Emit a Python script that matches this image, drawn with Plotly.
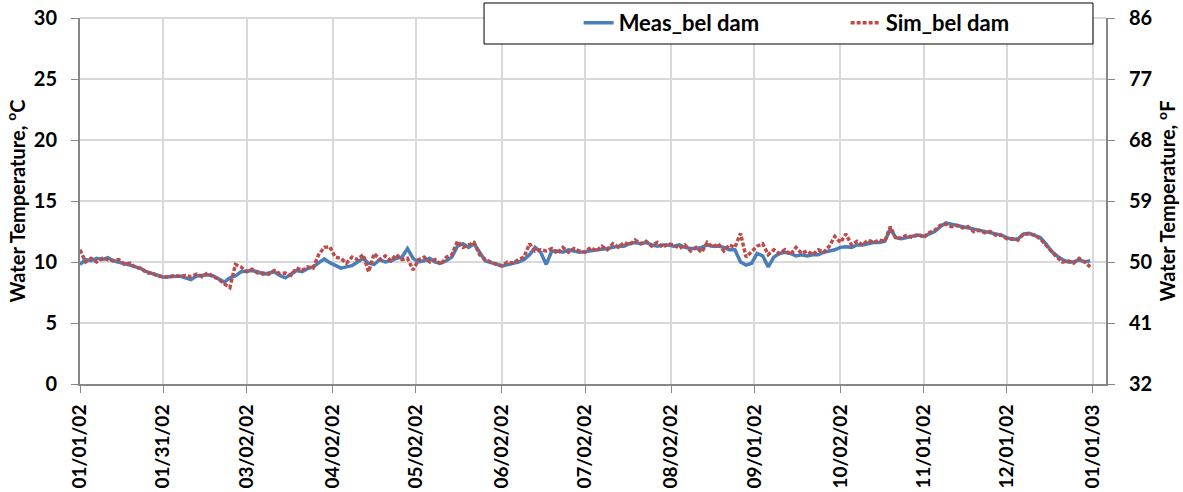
import datetime as dt
import plotly.graph_objects as go

# ---- data (2-day sampling starting 2002-01-01) ----
start_date = "2002-01-01"
step_days = 2

meas_bel_dam = [
    9.8, 10.2, 10.1, 10.3, 10.2, 10.35, 10.1, 10.0, 9.9, 9.75,
    9.6, 9.45, 9.2, 9.05, 8.9, 8.75, 8.8, 8.8, 8.85, 8.7,
    8.55, 8.85, 8.9, 8.95, 8.85, 8.6, 8.35, 8.7, 8.85, 9.2,
    9.25, 9.3, 9.2, 9.0, 9.1, 9.2, 8.9, 8.7, 9.0, 9.3,
    9.2, 9.45, 9.6, 9.9, 10.25, 9.95, 9.7, 9.5, 9.6, 9.7,
    10.0, 10.3, 9.9, 9.8, 10.2, 10.0, 10.1, 10.3, 10.4, 11.1,
    10.3, 10.0, 10.1, 10.3, 10.0, 9.9, 10.1, 10.4, 11.3, 11.5,
    11.2, 11.5, 10.8, 10.1, 9.95, 9.85, 9.65, 9.8, 9.9, 10.0,
    10.2, 10.6, 11.2, 10.8, 9.8, 10.9, 10.9, 10.8, 11.0, 10.9,
    10.8, 10.85, 10.9, 11.0, 11.0, 11.1, 11.2, 11.3, 11.3, 11.5,
    11.6, 11.5, 11.6, 11.4, 11.3, 11.4, 11.4, 11.3, 11.4, 11.2,
    11.1, 11.1, 11.2, 11.4, 11.3, 11.3, 11.2, 11.0, 11.0, 10.0,
    9.75, 9.9, 10.7, 10.5, 9.6, 10.4, 10.7, 10.8, 10.7, 10.5,
    10.6, 10.5, 10.6, 10.6, 10.8, 10.9, 11.0, 11.2, 11.25, 11.2,
    11.4, 11.4, 11.5, 11.6, 11.6, 11.7, 12.7, 12.0, 11.9, 12.0,
    12.1, 12.2, 12.1, 12.3, 12.5, 12.9, 13.2, 13.1, 13.0, 12.9,
    12.8, 12.7, 12.6, 12.5, 12.4, 12.3, 12.2, 12.0, 11.85, 11.9,
    12.3, 12.35, 12.2, 12.0, 11.5, 10.9, 10.5, 10.2, 10.0, 10.0,
    10.2, 10.0, 10.1,
]

sim_bel_dam = [
    11.0, 10.0, 10.3, 10.0, 10.3, 10.2, 10.1, 10.2, 9.8, 9.9,
    9.55, 9.5, 9.1, 9.1, 8.85, 8.8, 8.75, 8.9, 8.8, 8.9,
    8.8, 9.0, 8.8, 9.1, 8.8, 8.6, 8.2, 7.9, 9.8, 9.6,
    9.2, 9.4, 9.1, 9.1, 9.0, 9.3, 9.05, 9.1, 8.9, 9.5,
    9.3, 9.6, 9.5, 10.6, 11.2, 11.25, 10.4, 10.3, 9.9, 10.4,
    10.2, 10.6, 9.2, 10.7, 10.2, 10.5, 10.1, 10.6, 10.2, 10.3,
    9.35, 10.2, 10.4, 10.0, 10.2, 9.8, 10.4, 10.6, 11.7, 11.2,
    11.4, 11.6, 10.6, 10.2, 10.0, 9.8, 9.7, 10.0, 9.9, 10.2,
    10.4, 11.5, 10.9, 11.0, 10.9, 11.1, 10.7, 11.2, 10.8, 11.1,
    10.9, 10.8, 11.2, 10.9, 11.3, 11.0, 11.5, 11.2, 11.6, 11.4,
    11.8, 11.5, 11.7, 11.3, 11.6, 11.2, 11.5, 11.4, 11.1, 11.4,
    10.9, 11.2, 10.8, 11.6, 11.2, 11.5, 10.9, 11.4, 11.2, 12.35,
    10.4, 10.9, 11.3, 11.5, 10.6, 11.0, 10.7, 11.0, 10.6, 11.2,
    10.7, 10.9, 10.6, 11.0, 10.8, 11.3, 12.1, 11.6, 12.3, 11.4,
    11.7, 11.4, 11.8, 11.6, 11.8, 11.7, 12.9, 11.9, 12.0, 12.2,
    12.0, 12.3, 12.0, 12.4, 12.6, 13.0, 13.1, 12.9, 13.0, 12.8,
    12.9, 12.5, 12.6, 12.4, 12.5, 12.2, 12.2, 11.9, 11.9, 11.8,
    12.3, 12.3, 12.2, 11.9, 11.4, 10.8, 10.4, 10.0, 10.1, 9.9,
    10.3, 10.0, 9.6,
]

x_tick_dates = [
    "2002-01-01", "2002-01-31", "2002-03-02", "2002-04-02", "2002-05-02",
    "2002-06-02", "2002-07-02", "2002-08-02", "2002-09-01", "2002-10-02",
    "2002-11-01", "2002-12-01", "2003-01-01",
]
x_tick_labels = [
    "01/01/02", "01/31/02", "03/02/02", "04/02/02", "05/02/02",
    "06/02/02", "07/02/02", "08/02/02", "09/01/02", "10/02/02",
    "11/01/02", "12/01/02", "01/01/03",
]
c_ticks = [0, 5, 10, 15, 20, 25, 30]
f_ticks = [32, 41, 50, 59, 68, 77, 86]

# ---- build ----
t0 = dt.datetime.fromisoformat(start_date)
dates_m = [t0 + dt.timedelta(days=step_days * i) for i in range(len(meas_bel_dam))]
dates_s = [t0 + dt.timedelta(days=step_days * i) for i in range(len(sim_bel_dam))]

FONT = "Lato, 'Open Sans', sans-serif"
AXIS_GRAY = "#868686"
GRID = "#d9d9d9"
TICKFONT = dict(family=FONT, size=20, color="black", weight="bold")
XTICKFONT = dict(family=FONT, size=19, color="black", weight="bold")
TITLEFONT = dict(family=FONT, size=20, color="black", weight="bold")

fig = go.Figure()
fig.add_trace(go.Scatter(
    x=dates_m, y=meas_bel_dam, name="Meas_bel dam", mode="lines",
    line=dict(color="#4a7ebb", width=3.5),
))
fig.add_trace(go.Scatter(
    x=dates_s, y=sim_bel_dam, name="Sim_bel dam", mode="lines",
    line=dict(color="#be4b48", width=3.5, dash="4px,2px"),
))
# invisible trace to activate the secondary (°F) axis
fig.add_trace(go.Scatter(
    x=[t0], y=[f_ticks[0]], yaxis="y2", mode="lines",
    showlegend=False, hoverinfo="skip", line=dict(width=0),
))

x_end = t0 + dt.timedelta(days=369.7)

fig.update_layout(
    width=1183, height=492,
    margin=dict(l=80, r=77, t=18, b=108, autoexpand=False),
    paper_bgcolor="white", plot_bgcolor="white",
    font=dict(family=FONT, size=17, color="black"),
    showlegend=True,
    legend=dict(
        orientation="h", x=0.486, xanchor="left", y=1.044, yanchor="top",
        bgcolor="rgba(0,0,0,0)", borderwidth=0,
        font=dict(family=FONT, size=22, color="black", weight="bold"),
        entrywidth=222, entrywidthmode="pixels",
    ),
    xaxis=dict(
        type="date", range=[t0, x_end], automargin=False,
        tickmode="array", tickvals=x_tick_dates, ticktext=x_tick_labels,
        tickangle=-90, ticks="outside", ticklen=7, tickcolor=AXIS_GRAY,
        ticklabelstandoff=4, ticklabeloverflow="allow",
        showline=True, linecolor=AXIS_GRAY, linewidth=2,
        showgrid=True, gridcolor=GRID, gridwidth=2,
        tickfont=XTICKFONT, zeroline=False,
    ),
    yaxis=dict(
        range=[0, 30], tickmode="array", tickvals=c_ticks, automargin=False,
        ticks="outside", ticklen=7, tickcolor=AXIS_GRAY, ticklabelstandoff=10,
        ticklabeloverflow="allow",
        showline=True, linecolor=AXIS_GRAY, linewidth=2,
        showgrid=True, gridcolor=GRID, gridwidth=2, zeroline=False,
        tickfont=TICKFONT,
        title=dict(text="Water Temperature, <sup>o</sup>C", standoff=3,
                   font=TITLEFONT),
    ),
    yaxis2=dict(
        range=[32, 86], overlaying="y", side="right", automargin=False,
        tickmode="array", tickvals=f_ticks,
        ticks="outside", ticklen=7, tickcolor=AXIS_GRAY, ticklabelstandoff=10,
        ticklabeloverflow="allow",
        showline=True, linecolor=AXIS_GRAY, linewidth=2,
        showgrid=False, zeroline=False,
        tickfont=TICKFONT,
        title=dict(text="Water Temperature, <sup>o</sup>F", standoff=8,
                   font=TITLEFONT),
    ),
    shapes=[
        dict(type="line", xref="paper", yref="paper", x0=0, x1=1, y0=1, y1=1,
             line=dict(color=GRID, width=2), layer="below"),
        dict(type="rect", xref="paper", yref="paper",
             x0=0.3938, x1=0.9873, y0=0.929, y1=1.041,
             line=dict(color="black", width=1), fillcolor="white", layer="above"),
    ],
)

fig.write_html(
    "out.html",
    config={"displayModeBar": False},
    post_script="document.body.style.margin='0';document.body.style.overflow='hidden';",
)
